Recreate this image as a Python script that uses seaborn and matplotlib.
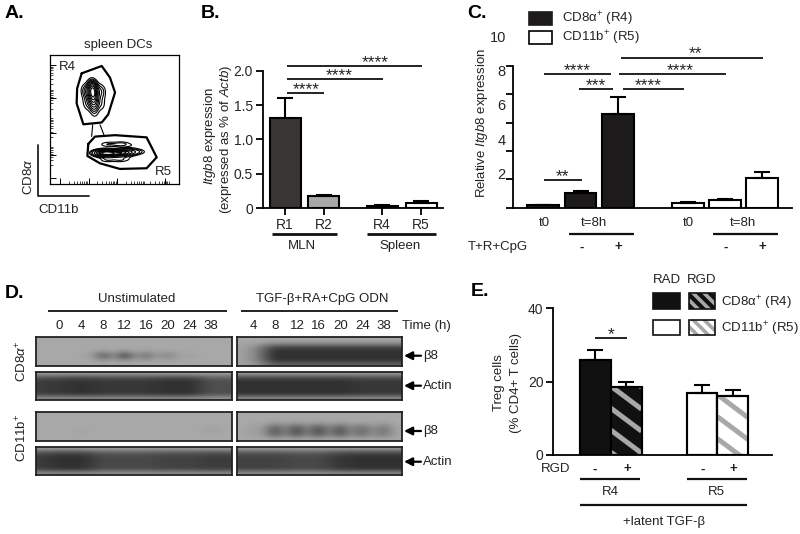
import numpy as np
import matplotlib
matplotlib.use('Agg')
import matplotlib.pyplot as plt
from matplotlib.patches import Rectangle
import seaborn as sns

## Panel A, density
R4_CD11b=[33,33,33.5,34,34.5,27,40,28,40]
R4_CD8a=[76,72,66,60,54,72,72,62,62]
R4_weight=[4,9,6,3,1,3,3,2,2]
R5_CD11b=[38,41,44,48,55,60,65,70,44,55,65,44,55,65]
R5_CD8a=[25,24,24,24,24,25,25,25,31,31,30,19,19,20]
R5_weight=[3,5,8,5,8,4,2,1,2,2.5,1,2,2,0.7]
## thin contour that joins the two populations
Join_x=[[33,32.2],[38.7,41.8]]
Join_y=[[46,37],[46,38]]
## gates R4 and R5
GateR4_x=[24.5,40,46.4,50.3,45,40,25.8,20.6,21,24.5]
GateR4_y=[85.8,91.5,82.5,71,54,47.8,46.4,62.6,74.2,85.8]
GateR5_x=[29.6,34.8,50.3,74.7,82.5,74.7,54,38.7,28.9,29.6]
GateR5_y=[31.2,36.9,38,36.3,20.9,12.4,11.9,16.2,21.9,31.2]

## Panel B
B_labels=['R1','R2','R4','R5']
B_values=[1.31,0.18,0.035,0.08]
B_tops=[1.60,0.195,0.045,0.105]
B_colors=['#3a3535','#a8a8a8','#3a3535','white']
B_ticks=[0,0.5,1.0,1.5,2.0]
B_ticklabels=['0','0.5','1.0','1.5','2.0']

## Panel C
C_values=[0.14,0.87,5.45,0.25,0.43,1.75]
C_tops=[0.17,0.95,6.46,0.33,0.50,2.08]
C_colors=['#1c1a1a','#1c1a1a','#1c1a1a','white','white','white']
C_ticklabels=['0','2','4','6','8','10']

## Panel D, band strength per lane with one padding lane on each side
D_hours_left=['0','4','8','12','16','20','24','38']
D_hours_right=['4','8','12','16','20','24','38']
Blot_CD8_b8_L=[0,0,0.03,0.75,0.95,0.55,0.35,0.08,0,0]
Blot_CD8_b8_R=[0,0.2,1,1,1,1,1,1,1]
Blot_CD8_ac_L=[0.9,0.95,1,0.95,0.95,0.95,1,1,0.75,0.75]
Blot_CD8_ac_R=[1,1,1,1,1,1,0.95,0.95,0.95]
Blot_CD11_b8_L=[0,0,0.04,0,0,0,0,0,0.08,0]
Blot_CD11_b8_R=[0,0.08,0.75,0.85,0.85,0.8,0.6,0.5,0]
Blot_CD11_ac_L=[0.9,1,1,0.8,0.8,0.8,0.85,0.85,0.9,0.9]
Blot_CD11_ac_R=[0.85,0.85,0.85,0.8,0.8,0.95,1,1,1]
Band_b8_thin=[0,0,0,0.25,1,0.3,0]
Band_b8_mid=[0,0,0.1,0.75,1,0.85,0.1]
Band_b8_strong=[0,0.2,0.85,1,1,1,0.6]
Band_actin=[0.05,0.75,1,1,1,1,0.25]

## Panel E
E_values=[26,18.5,17,16.2]
E_tops=[28.7,20,19.2,17.7]
E_colors=['#111111','#111111','white','white']

W,H=800,534
sns.set_style('ticks')
plt.rcParams['font.family']=['Liberation Sans','DejaVu Sans']
plt.rcParams['mathtext.fontset']='custom'
plt.rcParams['mathtext.rm']='Liberation Sans'
plt.rcParams['mathtext.it']='Liberation Sans:italic'
plt.rcParams['text.color']='#222222'
plt.rcParams['axes.labelcolor']='#222222'
FS=9.5
GREY='#a8a8a8'

fig=plt.figure(figsize=(W/100,H/100),dpi=100,facecolor='white')

def px_axes(l,t,r,b):
    return fig.add_axes([l/W,1-b/H,(r-l)/W,(b-t)/H])

def bars(ax,pos,values,tops,colors,width):
    sns.barplot(x=pos,y=values,native_scale=True,width=width,color='white',saturation=1,
                edgecolor='black',linewidth=1.5,errorbar=None,ax=ax)
    for p,c in zip(ax.patches,colors):
        p.set_facecolor(c)
    up=np.array(tops)-np.array(values)
    ax.errorbar(pos,values,yerr=[np.zeros(len(up)),up],fmt='none',ecolor='black',
                elinewidth=1.5,capsize=5.5,capthick=1.5)
    sns.despine(ax=ax)
    ax.patch.set_alpha(0)
    for s in ['left','bottom']:
        ax.spines[s].set_linewidth(1.3)
        ax.spines[s].set_color('black')
    ax.tick_params(width=1.3,length=5,labelsize=FS+0.5,color='black',pad=2)

## A. contour plot
axA=px_axes(50,55,179.3,184.3)
sns.kdeplot(x=R4_CD11b,y=R4_CD8a,weights=R4_weight,levels=10,thresh=0.13,bw_method=0.7,
            color='black',linewidths=0.8,gridsize=150,ax=axA)
sns.kdeplot(x=R5_CD11b,y=R5_CD8a,weights=R5_weight,levels=10,thresh=0.13,bw_method=0.55,
            color='black',linewidths=0.8,gridsize=150,ax=axA)
for jx,jy in zip(Join_x,Join_y):
    axA.plot(jx,jy,color='black',lw=0.8)
axA.plot(GateR4_x,GateR4_y,color='black',lw=1.6)
axA.plot(GateR5_x,GateR5_y,color='black',lw=1.6)
axA.set_xlim(0,100)
axA.set_ylim(0,100)
axA.set_xlabel('')
axA.set_ylabel('')
axA.set_xticks([8,30,52,89],labels=[])
axA.set_yticks([5,23,40,67,92],labels=[])
minor=np.concatenate([b+np.log10(np.arange(2,10))*22 for b in [8,30,52,71]])
axA.set_xticks(minor[minor<99],minor=True)
axA.set_yticks(minor[minor<99],minor=True)
axA.tick_params(which='major',direction='in',length=4,width=0.7,color='black')
axA.tick_params(which='minor',direction='in',length=2,width=0.5,color='black')
for s in axA.spines.values():
    s.set_linewidth(0.9)
    s.set_color('black')

## B
axB=px_axes(262.7,70.7,443,208)
B_pos=[0,1,2.52,3.53]
bars(axB,B_pos,B_values,B_tops,B_colors,0.805)
axB.set_xlim(-0.58,4.1)
axB.set_ylim(0,2)
axB.set_xticks(B_pos,labels=B_labels)
axB.set_yticks(B_ticks,labels=B_ticklabels)

## C, tick marks and tick labels do not line up in the original
axC=px_axes(512.7,32.6,792.3,207.7)
C_pos=[0,1,2,3.88,4.87,5.87]
bars(axC,C_pos,C_values,C_tops,C_colors,0.858)
axC.set_xlim(-0.82,6.68)
axC.set_ylim(0,10.2)
axC.set_xticks([])
axC.set_yticks([1.65*i for i in range(6)],labels=[])
axC.set_yticks([0,2,4,6,8,10],labels=C_ticklabels,minor=True)
axC.tick_params(axis='y',which='minor',length=0,pad=5,labelsize=FS+1)
axC.spines['left'].set_bounds(0,8.25)

## E
axE=px_axes(553.3,308.3,771.7,455)
E_pos=[0,1,3.44,4.43]
bars(axE,E_pos,E_values,E_tops,E_colors,1.0)
axE.set_xlim(-1.35,5.69)
axE.set_ylim(0,40)
axE.set_xticks([])
axE.set_yticks([0,20,40])

## D. blots
def blot(l,t,r,b,lanes,band,gap,first,step):
    ax=px_axes(l,t,r,b)
    cols=[]
    for a,c in zip(lanes[:-1],lanes[1:]):
        cols+=[a,gap*(a+c)/2]
    cols.append(lanes[-1])
    darkness=np.outer(band,cols)
    x0=first-step-step/4
    x1=x0+len(cols)*step/2
    ax.imshow(0.66-0.47*darkness,cmap='gray',vmin=0,vmax=1,aspect='auto',interpolation='bicubic',
              extent=[x0,x1,b,t])
    ax.set_xlim(l,r)
    ax.set_ylim(b,t)
    ax.set_xticks([])
    ax.set_yticks([])
    for s in ax.spines.values():
        s.set_linewidth(1.3)
        s.set_color('#222222')

L_edges=(35.7,231.7)
R_edges=(237.3,402.3)
rows=[(337.3,365.7,Blot_CD8_b8_L,Blot_CD8_b8_R,Band_b8_thin,Band_b8_strong,0.25,1),
      (371.7,400,Blot_CD8_ac_L,Blot_CD8_ac_R,Band_actin,Band_actin,1,1),
      (412.3,441,Blot_CD11_b8_L,Blot_CD11_b8_R,Band_b8_thin,Band_b8_mid,0.5,0.35),
      (446.7,475,Blot_CD11_ac_L,Blot_CD11_ac_R,Band_actin,Band_actin,1,1)]
for t,b,lanesL,lanesR,bandL,bandR,gapL,gapR in rows:
    blot(L_edges[0],t,L_edges[1],b,lanesL,bandL,gapL,59.3,21.7)
    blot(R_edges[0],t,R_edges[1],b,lanesR,bandR,gapR,253.3,21.8)

## overlay in pixels for all the annotation
ov=fig.add_axes([0,0,1,1],facecolor='none')
ov.set_xlim(0,W)
ov.set_ylim(H,0)
ov.axis('off')

def txt(x,y,s,ha='center',size=FS,**kw):
    ov.text(x,y,s,ha=ha,va='center',fontsize=size,**kw)

def hline(x0,x1,y,lw=1.3):
    ov.plot([x0,x1],[y,y],color='#111111',lw=lw,solid_capstyle='butt')

def sig(x0,x1,y,stars,xs,ys):
    hline(x0,x1,y)
    ov.text(xs,ys+2.5,stars,ha='center',va='center',fontsize=12.5,color='#222222')

def stripes(ax,patch,period,slope,lw,color):
    # grey diagonal bands, clipped to the bar or swatch
    box=patch.get_window_extent()
    l,r,t,b=box.x0,box.x1,H-box.y1,H-box.y0
    for y0 in np.arange(t-slope*(r-l)-period,b+period,period):
        line,=ax.plot([l,r],[y0,y0+slope*(r-l)],color=color,lw=lw,solid_capstyle='butt',
                      transform=ov.transData,scalex=False,scaley=False,zorder=1.5)
        line.set_clip_path(patch)

for x,y,s in [(5,13,'A.'),(201,13,'B.'),(467,13,'C.'),(5,293,'D.'),(471,291.7,'E.')]:
    txt(x,y,s,ha='left',size=14,fontweight='bold',color='black')

# A
txt(118,45,'spleen DCs')
txt(67,67,'R4')
txt(163,172,'R5')
ov.plot([38,38,88.5],[145,196,196],color='#222222',lw=1.3)
txt(28,177,r'CD8$\mathit{\alpha}$',rotation=90)
txt(59,210,'CD11b')

# B
txt(210.5,136,r'$\mathit{Itgb8}$ expression',rotation=90)
txt(225.5,139,r'(expressed as % of $\mathit{Actb}$)',rotation=90)
sig(286.7,421.7,66.3,'****',375.7,60)
sig(286.7,383.3,79.3,'****',339,72.7)
sig(286.7,324.3,92.7,'****',306,87.3)
hline(271.7,337,233.7,2)
hline(367.3,436,233.7,2)
txt(301.7,245.7,'MLN')
txt(400,245.7,'Spleen')

# C
ov.add_patch(Rectangle((529.3,11.7),23,13.3,fc='#1c1a1a',ec='#1c1a1a',lw=1.2))
ov.add_patch(Rectangle((529.3,31.3),23,12.7,fc='white',ec='black',lw=1.2))
txt(561.7,19.3,r'CD8$\mathrm{\alpha}^{+}$ (R4)',ha='left')
txt(561.7,38.3,r'CD11b$^{+}$ (R5)',ha='left')
txt(482.3,122.7,r'Relative $\mathit{Itgb8}$ expression',rotation=90)
sig(620.7,762.7,58.3,'**',695,50.7)
sig(619.3,726,74,'****',680.7,67.7)
sig(544.3,611,74,'****',577.7,67.7)
sig(579,613.3,89.3,'***',596,83.3)
sig(622.7,684,89.3,'****',648,83.3)
sig(544.3,581.7,180,'**',562.3,174)
for x,s in [(544.3,'t0'),(594.3,'t=8h'),(688.3,'t0'),(743.3,'t=8h')]:
    txt(x,222.7,s)
hline(569,633.7,234.3,1.6)
hline(713.3,778,234.3,1.6)
txt(467.3,247.3,'T+R+CpG',ha='left')
for x,s in [(581.7,'-'),(618.3,'+'),(725.7,'-'),(762.3,'+')]:
    txt(x,247.3,s,fontweight='bold')

# D
txt(137,299,'Unstimulated')
txt(322.7,299,'TGF-β+RA+CpG ODN')
hline(47.7,226.7,310.7)
hline(241,398.3,310.7)
for i,s in enumerate(D_hours_left):
    txt(59.3+21.7*i,326,s)
for i,s in enumerate(D_hours_right):
    txt(253.3+21.8*i,326,s)
txt(402,326,'Time (h)',ha='left')
for y,s in [(355.7,'β8'),(385.7,'Actin'),(431,'β8'),(461.7,'Actin')]:
    ov.annotate('',xy=(404,y),xytext=(421,y),arrowprops=dict(arrowstyle='-|>',color='black',lw=1.6,
                mutation_scale=12,shrinkA=0,shrinkB=0))
    txt(423,y,s,ha='left')
txt(22,361,r'CD8$\mathit{\alpha}^{+}$',rotation=90)
txt(22,438,r'CD11b$^{+}$',rotation=90)

# E
txt(666.7,280,'RAD')
txt(701.7,280,'RGD')
ov.add_patch(Rectangle((653.3,293.3),26.7,16,fc='#111111',ec='#111111',lw=1.2))
ov.add_patch(Rectangle((653.3,320),26.7,15,fc='white',ec='#111111',lw=1.2))
sw1=Rectangle((689,293.3),26.3,16,fc='#111111',ec='none')
sw2=Rectangle((689,320),26.3,15,fc='white',ec='none')
for sw in [sw1,sw2]:
    ov.add_patch(sw)
    stripes(ov,sw,11,1,2.6,GREY)
    ov.add_patch(Rectangle(sw.get_xy(),sw.get_width(),sw.get_height(),fill=False,ec='#111111',lw=1.2,zorder=3))
for p in axE.patches[1::2]:
    stripes(axE,p,22,0.75,3.6,GREY)
for p in axE.patches:
    p.set_zorder(1)
    axE.add_patch(Rectangle(p.get_xy(),p.get_width(),p.get_height(),fill=False,ec='black',lw=1.5,zorder=1.8))
txt(720.7,303.3,r'CD8$\mathrm{\alpha}^{+}$ (R4)',ha='left')
txt(720.7,329.3,r'CD11b$^{+}$ (R5)',ha='left')
sig(595,627.3,338.3,'*',610.7,331.7)
txt(499.3,383,'Treg cells',rotation=90)
txt(516,383,'(% CD4+ T cells)',rotation=90)
txt(540.7,469.3,'RGD',ha='left')
for x,s in [(594.3,'-'),(627.3,'+'),(702.7,'-'),(733.3,'+')]:
    txt(x,469.3,s,fontweight='bold')
hline(580,640.3,479.3,1.6)
hline(686.7,747.3,479.3,1.6)
txt(610.7,492.3,'R4')
txt(716.7,492.3,'R5')
hline(580,746.7,505,1.6)
txt(664,521.7,'+latent TGF-β')

fig.savefig('out.png',dpi=100,facecolor='white')
